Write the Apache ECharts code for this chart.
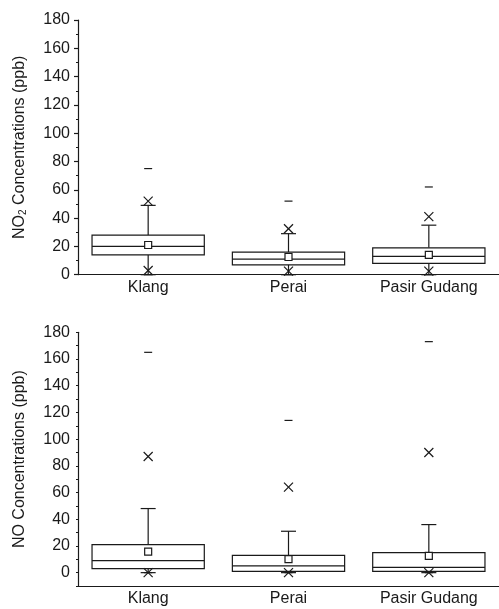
<!DOCTYPE html>
<html>
<head>
<meta charset="utf-8">
<script src="https://cdn.jsdelivr.net/npm/echarts@6/dist/echarts.min.js"></script>
<style>
  html, body { margin: 0; padding: 0; background: #fff; }
  #chart { width: 499px; height: 609px; }
</style>
</head>
<body>
<div id="chart"></div>
<script>
// sites on the x axis
const sites = ["Klang", "Perai", "Pasir Gudang"];
const yTicks = [0, 20, 40, 60, 80, 100, 120, 140, 160, 180];

// NO2 (ppb) box statistics
const no2Min = [0, 0, 0];
const no2P1 = [3, 2.5, 2.5];
const no2WhiskLow = [0, 0, 0];
const no2Q1 = [14, 7, 8];
const no2Median = [20, 11, 13];
const no2Mean = [21, 12.5, 14];
const no2Q3 = [28, 16, 19];
const no2WhiskHigh = [49, 29, 35];
const no2P99 = [52, 32.5, 41];
const no2Max = [75, 52, 62];

// NO (ppb)
const noMin = [0, 0, 0];
const noP1 = [0, 0, 0];
const noWhiskLow = [0, 0, 0];
const noQ1 = [3, 1, 1];
const noMedian = [9, 5, 4];
const noMean = [15.7, 10.2, 12.5];
const noQ3 = [21, 13, 15];
const noWhiskHigh = [48, 31, 36];
const noP99 = [87, 64, 90];
const noMax = [165, 114, 173];

const ink = "#1a1a1a";
const lw = 1.2;
const font = "'Liberation Sans', Arial, sans-serif";

function rows(min, p1, wl, q1, med, mean, q3, wh, p99, max) {
  return sites.map((s, i) => [i, min[i], p1[i], wl[i], q1[i], med[i], mean[i], q3[i], wh[i], p99[i], max[i]]);
}

// draws one box glyph per category using the axis scales
function renderBox(params, api) {
  const x = api.value(0);
  const cx = api.coord([x, 0])[0];
  const y = (k) => api.coord([x, api.value(k)])[1];
  const half = api.size([1, 0])[0] * 0.4;
  const cap = 7.5;
  const st = { stroke: ink, lineWidth: lw, fill: null };
  const line = (x1, y1, x2, y2) => ({ type: "line", shape: { x1, y1, x2, y2 }, style: st });
  const cross = (yy) => [
    line(cx - 4.5, yy - 4.5, cx + 4.5, yy + 4.5),
    line(cx - 4.5, yy + 4.5, cx + 4.5, yy - 4.5),
  ];
  const yMin = y(1), yP1 = y(2), yWl = y(3), yQ1 = y(4), yMed = y(5),
        yMean = y(6), yQ3 = y(7), yWh = y(8), yP99 = y(9), yMax = y(10);
  const children = [
    line(cx, yQ3, cx, yWh),
    line(cx - cap, yWh, cx + cap, yWh),
    line(cx, yQ1, cx, yWl),
    line(cx - cap, yWl, cx + cap, yWl),
    { type: "rect", shape: { x: cx - half, y: yQ3, width: half * 2, height: yQ1 - yQ3 },
      style: { stroke: ink, lineWidth: lw, fill: "#fff" } },
    line(cx - half, yMed, cx + half, yMed),
    { type: "rect", shape: { x: cx - 3.5, y: yMean - 3.5, width: 7, height: 7 },
      style: { stroke: ink, lineWidth: lw, fill: "#fff" } },
    line(cx - 4, yMax, cx + 4, yMax),
    line(cx - 4, yMin, cx + 4, yMin),
  ].concat(cross(yP1), cross(yP99));
  return { type: "group", children };
}

const labelStyle = { color: ink, fontSize: 16, fontFamily: font };

function xAxis(gridIndex) {
  return {
    type: "category",
    gridIndex,
    data: sites,
    axisLine: { onZero: false, lineStyle: { color: ink, width: lw } },
    axisTick: { alignWithLabel: true, length: 5, lineStyle: { color: ink, width: lw } },
    axisLabel: { color: ink, fontSize: 16, fontFamily: font, margin: 5 },
  };
}

const option = {
  animation: false,
  backgroundColor: "#fff",
  grid: [
    { left: 78, right: -2, top: 20, height: 254.7 },
    { left: 78, right: -2, top: 332.3, height: 253.7 },
  ],
  xAxis: [xAxis(0), xAxis(1)],
  yAxis: [
    {
      type: "value", gridIndex: 0, min: 0, max: 180, interval: 20,
      name: "NO{sub|2} Concentrations (ppb)", nameLocation: "middle", nameGap: 50,
      nameTextStyle: {
        color: ink, fontSize: 16, fontFamily: font,
        rich: { sub: { fontSize: 10, fontFamily: font, color: ink, padding: [7, 0, 0, 0] } },
      },
      axisLine: { show: true, lineStyle: { color: ink, width: lw } },
      axisTick: { show: true, length: 4, lineStyle: { color: ink, width: lw } },
      minorTick: { show: true, splitNumber: 2, length: 2, lineStyle: { color: ink, width: lw } },
      axisLabel: Object.assign({ margin: 8 }, labelStyle),
      splitLine: { show: false },
    },
    {
      type: "value", gridIndex: 1, min: -10, max: 180, interval: 10,
      name: "NO Concentrations (ppb)", nameLocation: "middle", nameGap: 50,
      nameTextStyle: { color: ink, fontSize: 16, fontFamily: font },
      axisLine: { show: true, lineStyle: { color: ink, width: lw } },
      axisTick: { show: true, length: 2, lineStyle: { color: ink, width: lw } },
      axisLabel: Object.assign({
        margin: 8,
        formatter: (v) => (yTicks.indexOf(v) >= 0 ? String(v) : ""),
      }, labelStyle),
      splitLine: { show: false },
    },
    {
      // longer ticks at the labelled values of the lower panel
      type: "value", gridIndex: 1, min: -10, max: 180,
      axisLine: { show: false },
      axisTick: { show: true, length: 4, customValues: yTicks, lineStyle: { color: ink, width: lw } },
      axisLabel: { show: false },
      splitLine: { show: false },
    },
  ],
  series: [
    {
      type: "custom", xAxisIndex: 0, yAxisIndex: 0, renderItem: renderBox,
      data: rows(no2Min, no2P1, no2WhiskLow, no2Q1, no2Median, no2Mean, no2Q3, no2WhiskHigh, no2P99, no2Max),
      z: 3,
    },
    {
      type: "custom", xAxisIndex: 1, yAxisIndex: 1, renderItem: renderBox,
      data: rows(noMin, noP1, noWhiskLow, noQ1, noMedian, noMean, noQ3, noWhiskHigh, noP99, noMax),
      z: 3,
    },
  ],
};

const chart = echarts.init(document.getElementById("chart"));
chart.setOption(option);
</script>
</body>
</html>
